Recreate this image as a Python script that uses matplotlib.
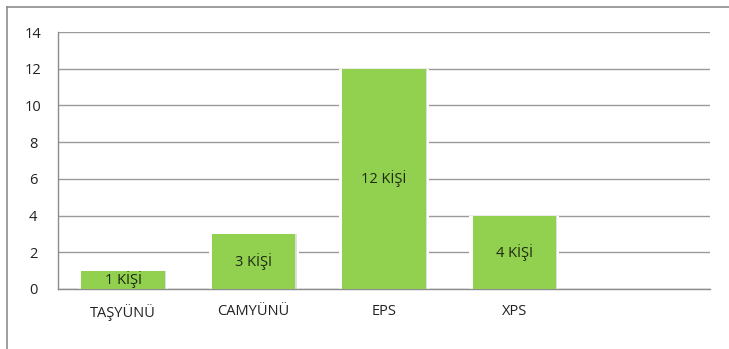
import matplotlib
matplotlib.use("Agg")
import matplotlib.pyplot as plt

categories = ["TAŞYÜNÜ", "CAMYÜNÜ", "EPS", "XPS", ""]
values = [1, 3, 12, 4, 0]
bar_labels = ["1 KİŞİ", "3 KİŞİ", "12 KİŞİ", "4 KİŞİ", ""]
y_ticks = [0, 2, 4, 6, 8, 10, 12, 14]

plt.rcParams["font.family"] = ["Open Sans", "DejaVu Sans"]

W, H = 729, 349
fig = plt.figure(figsize=(W / 100, H / 100), dpi=100)
fig.patch.set_facecolor("white")

# outer chart frame (left and top edges)
fig.add_artist(plt.Line2D([7 / W, 7 / W], [0, 1 - 7 / H], color="#8c8c8c", lw=1.2))
fig.add_artist(plt.Line2D([7 / W, 1], [1 - 7 / H, 1 - 7 / H], color="#8c8c8c", lw=1.2))

left, right, top, bottom = 58, 710, 32, 289
ax = fig.add_axes([left / W, 1 - bottom / H, (right - left) / W, (bottom - top) / H])
ax.set_xlim(-0.5, len(categories) - 0.5)
ax.set_ylim(0, 14)
ax.set_yticks(y_ticks)
ax.set_xticks(range(len(categories)))
ax.set_xticklabels(categories)
ax.tick_params(axis="both", length=0, labelsize=10.5, colors="#222222")
ax.tick_params(axis="x", pad=11)
ax.tick_params(axis="y", pad=18)
for lab in ax.get_yticklabels():
    lab.set_horizontalalignment("center")

for s in ["top", "right"]:
    ax.spines[s].set_visible(False)
for s in ["left", "bottom"]:
    ax.spines[s].set_color("#8c8c8c")
    ax.spines[s].set_linewidth(1.0)

ax.yaxis.grid(True, color="#9a9a9a", lw=1.0)
ax.set_axisbelow(True)

width = 0.64
xs = list(range(len(categories)))
# soft halo and shadow behind each bar
ax.bar(xs, values, width=width + 0.05, color="white", zorder=2)
ax.bar([x + 0.01 for x in xs], values, width=width, bottom=0, color="#dedede", zorder=2.5)
bars = ax.bar(xs, values, width=width, color="#92d050", zorder=3)

for b, v, t in zip(bars, values, bar_labels):
    if t:
        ax.text(b.get_x() + b.get_width() / 2, v / 2, t, ha="center", va="center",
                fontsize=10.5, color="#1e2a10", zorder=4)

fig.savefig("out.png", dpi=100, facecolor="white")
